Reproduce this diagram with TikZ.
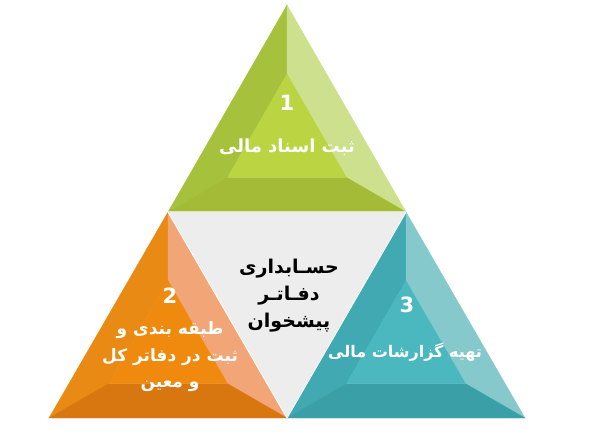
\documentclass[tikz,border=0pt]{standalone}
\usepackage{fontspec}
\newfontfamily\arabicfont[Script=Arabic]{DejaVu Sans}
\TeXXeTstate=1
\usetikzlibrary{calc}

\definecolor{grnLeft}{HTML}{A6C23D}
\definecolor{grnRight}{HTML}{CDE08D}
\definecolor{grnBottom}{HTML}{A3BB36}
\definecolor{grnInner}{HTML}{BBD442}
\definecolor{orgLeft}{HTML}{E98A14}
\definecolor{orgRight}{HTML}{F2A576}
\definecolor{orgBottom}{HTML}{D8770F}
\definecolor{orgInner}{HTML}{F08A0E}
\definecolor{tealLeft}{HTML}{40A9B1}
\definecolor{tealRight}{HTML}{86C9CD}
\definecolor{tealBottom}{HTML}{3A9FA6}
\definecolor{tealInner}{HTML}{4BB8C0}
\definecolor{centerGray}{HTML}{EDEDED}

\tikzset{
  facet/.style={draw=#1, line width=0.3pt, fill=#1},
  steplabel/.style={text=white, align=center,
    font=\arabicfont\bfseries\fontsize{18}{26.5}\selectfont},
  stepnum/.style={text=white, font=\arabicfont\bfseries\fontsize{21}{24}\selectfont},
  centerlabel/.style={text=black, align=center,
    font=\arabicfont\bfseries\fontsize{19}{27}\selectfont}
}

\begin{document}
\begin{tikzpicture}[x=1pt, y=-1pt]
      \useasboundingbox (0,0) rectangle (600,438);

      % outer corners
      \coordinate (top) at (287,5);
      \coordinate (midL) at (168,212);
      \coordinate (midR) at (406,212);
      \coordinate (botL) at (49,418);
      \coordinate (botM) at (287,418);
      \coordinate (botR) at (525,418);

      % centroids
      \coordinate (gA) at ($1/3*(top)+1/3*(midL)+1/3*(midR)$);
      \coordinate (gB) at ($1/3*(midL)+1/3*(botL)+1/3*(botM)$);
      \coordinate (gC) at ($1/3*(midR)+1/3*(botM)+1/3*(botR)$);

      % inner corners
      \coordinate (aTop) at ($(gA)!0.5!(top)$);
      \coordinate (aL) at ($(gA)!0.5!(midL)$);
      \coordinate (aR) at ($(gA)!0.5!(midR)$);
      \coordinate (bTop) at ($(gB)!0.5!(midL)$);
      \coordinate (bL) at ($(gB)!0.5!(botL)$);
      \coordinate (bR) at ($(gB)!0.5!(botM)$);
      \coordinate (cTop) at ($(gC)!0.5!(midR)$);
      \coordinate (cL) at ($(gC)!0.5!(botM)$);
      \coordinate (cR) at ($(gC)!0.5!(botR)$);

      % center
      \fill[centerGray] (midL) -- (midR) -- (botM) -- cycle;

      % step 1
      \filldraw[facet=grnLeft] (top) -- (midL) -- (aL) -- (aTop) -- cycle;
      \filldraw[facet=grnRight] (top) -- (midR) -- (aR) -- (aTop) -- cycle;
      \filldraw[facet=grnBottom] (midL) -- (midR) -- (aR) -- (aL) -- cycle;
      \filldraw[facet=grnInner] (aTop) -- (aL) -- (aR) -- cycle;

      % step 2
      \filldraw[facet=orgLeft] (midL) -- (botL) -- (bL) -- (bTop) -- cycle;
      \filldraw[facet=orgRight] (midL) -- (botM) -- (bR) -- (bTop) -- cycle;
      \filldraw[facet=orgBottom] (botL) -- (botM) -- (bR) -- (bL) -- cycle;
      \filldraw[facet=orgInner] (bTop) -- (bL) -- (bR) -- cycle;

      % step 3
      \filldraw[facet=tealLeft] (midR) -- (botM) -- (cL) -- (cTop) -- cycle;
      \filldraw[facet=tealRight] (midR) -- (botR) -- (cR) -- (cTop) -- cycle;
      \filldraw[facet=tealBottom] (botM) -- (botR) -- (cR) -- (cL) -- cycle;
      \filldraw[facet=tealInner] (cTop) -- (cL) -- (cR) -- cycle;

      % thin white seams
      \draw[white, line width=1pt] (midL) -- (midR) -- (botM) -- cycle;

      \node[stepnum] (num1) at (287,103) {1};
      \node[steplabel] (lab1) at (287,147) {\beginR ثبت اسناد مالی\endR};
      \node[stepnum] (num2) at (170,296) {2};
      \node[steplabel, font=\arabicfont\bfseries\fontsize{17}{26.5}\selectfont] (lab2) at (170,357)
        {\beginR طبقه بندی و\endR\\ \beginR ثبت در دفاتر کل\endR\\ \beginR و معین\endR};
      \node[stepnum] (num3) at (407,305) {3};
      \node[steplabel, font=\arabicfont\bfseries\fontsize{16}{20}\selectfont] (lab3) at (405,352) {\beginR تهیه گزارشات مالی\endR};
      \node[centerlabel] (center) at (289,296)
        {\beginR حسـابداری\endR\\ \beginR دفـاتـر\endR\\ \beginR پیشخوان\endR};
    \end{tikzpicture}
\end{document}
